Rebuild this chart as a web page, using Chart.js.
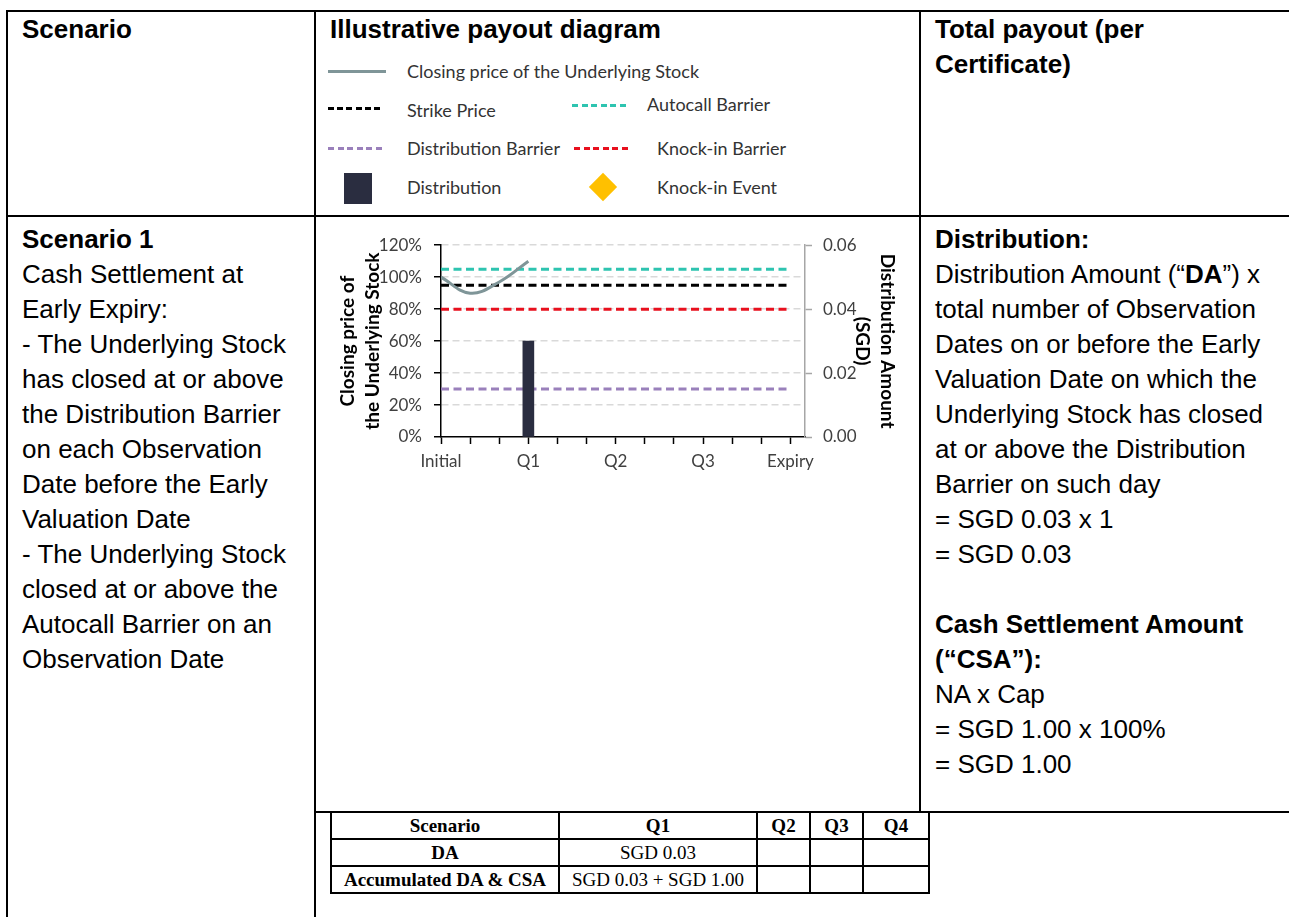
<!DOCTYPE html>
<html>
<head>
<meta charset="utf-8">
<script src="https://cdn.jsdelivr.net/npm/chart.js@4.4.1/dist/chart.umd.min.js"></script>
<style>
    body { margin: 0; background: #fff; width: 1289px; height: 917px; position: relative; overflow: hidden;
           font-family: "Liberation Sans", Arial, sans-serif; color: #000; }
    .ln { position: absolute; background: #000; }
    .txt { position: absolute; font-size: 26px; line-height: 35px; white-space: nowrap; }
    .sw { position: absolute; height: 3px; }
    .lg { position: absolute; font-family: Lato, sans-serif; font-size: 18px; line-height: 20px; color: #333; white-space: nowrap; }
    .mini { position: absolute; border-collapse: collapse; table-layout: fixed; width: 598px;
            font-family: "Liberation Serif", "Times New Roman", serif; font-size: 19px; }
    .mini td, .mini th { border: 2px solid #000; padding: 0; text-align: center; height: 25px; line-height: 20px; }
    .mini td { font-weight: normal; }
    #chartBox { position: absolute; left: 330px; top: 223px; width: 575px; height: 253px; }
</style>
</head>
<body>

<!-- outer table lines -->
<div class="ln" style="left:6px;top:10px;width:1283px;height:2px"></div>
<div class="ln" style="left:6px;top:215px;width:1283px;height:2px"></div>
<div class="ln" style="left:314px;top:811px;width:975px;height:2px"></div>
<div class="ln" style="left:6px;top:10px;width:2px;height:907px"></div>
<div class="ln" style="left:314px;top:10px;width:2px;height:907px"></div>
<div class="ln" style="left:919px;top:10px;width:2px;height:803px"></div>

<!-- header row -->
<div class="txt" style="left:22px;top:12px"><b>Scenario</b></div>
<div class="txt" style="left:330px;top:12px"><b>Illustrative payout diagram</b></div>
<div class="txt" style="left:935px;top:12px"><b>Total payout (per<br>Certificate)</b></div>

<!-- legend -->
<div class="sw" style="left:328px;top:70px;width:58px;background:#7f9598"></div>
<div class="lg" style="left:407px;top:61px">Closing price of the Underlying Stock</div>

<div class="sw" style="left:328px;top:107px;width:52px;background:repeating-linear-gradient(90deg,#000 0 6px,transparent 6px 9.2px)"></div>
<div class="lg" style="left:407px;top:100px">Strike Price</div>
<div class="sw" style="left:572px;top:104px;width:56px;background:repeating-linear-gradient(90deg,#2ec4b0 0 6px,transparent 6px 9.6px)"></div>
<div class="lg" style="left:647px;top:94px">Autocall Barrier</div>

<div class="sw" style="left:328px;top:147px;width:56px;background:repeating-linear-gradient(90deg,#9a80bb 0 6px,transparent 6px 9.6px)"></div>
<div class="lg" style="left:407px;top:138px">Distribution Barrier</div>
<div class="sw" style="left:574px;top:147px;width:56px;background:repeating-linear-gradient(90deg,#e8101e 0 6px,transparent 6px 9.6px)"></div>
<div class="lg" style="left:657px;top:138px">Knock-in Barrier</div>

<div style="position:absolute;left:344px;top:173px;width:28px;height:31px;background:#2a2d40"></div>
<div class="lg" style="left:407px;top:177px">Distribution</div>
<div style="position:absolute;left:593px;top:177px;width:20px;height:20px;background:#ffc000;transform:rotate(45deg)"></div>
<div class="lg" style="left:657px;top:177px">Knock-in Event</div>

<!-- scenario 1 row -->
<div class="txt" style="left:22px;top:222px">
<b>Scenario 1</b><br>
Cash Settlement at<br>
Early Expiry:<br>
- The Underlying Stock<br>
has closed at or above<br>
the Distribution Barrier<br>
on each Observation<br>
Date before the Early<br>
Valuation Date<br>
- The Underlying Stock<br>
closed at or above the<br>
Autocall Barrier on an<br>
Observation Date
</div>

<div class="txt" style="left:935px;top:222px">
<b>Distribution:</b><br>
Distribution Amount (“<b>DA</b>”) x<br>
total number of Observation<br>
Dates on or before the Early<br>
Valuation Date on which the<br>
Underlying Stock has closed<br>
at or above the Distribution<br>
Barrier on such day<br>
= SGD 0.03 x 1<br>
= SGD 0.03<br>
<br>
<b>Cash Settlement Amount</b><br>
<b>(“CSA”):</b><br>
NA x Cap<br>
= SGD 1.00 x 100%<br>
= SGD 1.00
</div>

<div id="chartBox"><canvas id="payoutChart"></canvas></div>

<table class="mini" style="left:330px;top:811px">
    <colgroup><col style="width:228px"><col style="width:198px"><col style="width:53px"><col style="width:53px"><col style="width:66px"></colgroup>
    <tr><th>Scenario</th><th>Q1</th><th>Q2</th><th>Q3</th><th>Q4</th></tr>
    <tr><th>DA</th><td>SGD 0.03</td><td></td><td></td><td></td></tr>
    <tr><th>Accumulated DA &amp; CSA</th><td>SGD 0.03 + SGD 1.00</td><td></td><td></td><td></td></tr>
</table>

<script>
// Observation points (monthly), labelled every quarter
const xLabels = ['Initial', '', '', 'Q1', '', '', 'Q2', '', '', 'Q3', '', '', 'Expiry'];

// Closing price of the Underlying Stock (% of initial), up to early expiry at Q1
const stockClose = [100, 90, 97, 110];

// Barrier levels (% of initial)
const autocallLevel = 105;
const strikeLevel = 95;
const knockInLevel = 80;
const distBarrierLevel = 30;

// Distribution amount paid (SGD) per observation point
const distribution = [null, null, null, 0.03, null, null, null, null, null, null, null, null, null];

// Axis ticks
const leftTicks = [0, 20, 40, 60, 80, 100, 120];
const rightTicks = [0, 0.02, 0.04, 0.06];

const lastX = xLabels.length - 1;
const flat = level => [{ x: 0, y: level }, { x: lastX, y: level }];
const tickFont = { family: 'Lato', size: 17 };
const titleFont = { family: 'Lato', size: 19, weight: 'bold', lineHeight: 1.32 };

function barrier(color, level) {
    return {
        type: 'line', data: flat(level), yAxisID: 'y', order: 1,
        borderColor: color, borderWidth: 3, borderDash: [8, 4.5], pointRadius: 0
    };
}

new Chart(document.getElementById('payoutChart').getContext('2d'), {
    data: {
        datasets: [
            {
                type: 'bar', yAxisID: 'y2', order: 0,
                data: distribution.map((v, i) => ({ x: i, y: v })).filter(p => p.y !== null),
                backgroundColor: '#2a2d40', barThickness: 11
            },
            {
                type: 'line', yAxisID: 'y', order: 1,
                data: stockClose.map((v, i) => ({ x: i, y: v })),
                borderColor: '#7f9598', borderWidth: 3, tension: 0.4, pointRadius: 0
            },
            barrier('#2ec4b0', autocallLevel),
            barrier('#000000', strikeLevel),
            barrier('#e8101e', knockInLevel),
            barrier('#9a80bb', distBarrierLevel)
        ]
    },
    options: {
        responsive: true,
        maintainAspectRatio: false,
        animation: false,
        layout: { padding: 0 },
        plugins: { legend: { display: false }, tooltip: { enabled: false } },
        scales: {
            x: {
                type: 'linear', min: 0, max: lastX + 0.5, offset: false,
                afterBuildTicks: s => { s.ticks = xLabels.map((l, i) => ({ value: i })); },
                afterFit: s => { s.height = 39; },
                grid: { offset: false, drawOnChartArea: false, tickLength: 7, tickColor: '#000', tickWidth: 1.5 },
                border: { color: '#000', width: 1.5 },
                ticks: { autoSkip: false, maxRotation: 0, padding: 7, color: '#404040', font: tickFont,
                         callback: v => xLabels[v] || '' }
            },
            y: {
                position: 'left', min: 0, max: 120,
                afterBuildTicks: s => { s.ticks = leftTicks.map(v => ({ value: v })); },
                afterFit: s => { s.width = 111; },
                grid: {
                    color: c => (c.tick && c.tick.value === 0) ? 'rgba(0,0,0,0)' : '#d9d9d9',
                    lineWidth: 1.5, tickLength: 7, tickColor: '#000', tickWidth: 1.5
                },
                border: { color: '#000', width: 1.5, dash: [7, 4] },
                ticks: { padding: 12, color: '#404040', font: tickFont, callback: v => v + '%' },
                title: { display: true, text: ['Closing price of', 'the Underlying Stock'],
                         color: '#000', font: titleFont, padding: { top: 5.5, bottom: 0 } }
            },
            y2: {
                position: 'right', min: 0, max: 0.06,
                afterBuildTicks: s => { s.ticks = rightTicks.map(v => ({ value: v })); },
                afterFit: s => { s.width = 100; },
                grid: { drawOnChartArea: false, tickLength: 7, tickColor: '#a6a6a6', tickWidth: 1.5 },
                border: { color: '#a6a6a6', width: 1.5 },
                ticks: { padding: 11, color: '#404040', font: tickFont, callback: v => v.toFixed(2) },
                title: { display: true, text: ['Distribution Amount', '(SGD)'],
                         color: '#000', font: titleFont, padding: { top: 5.5, bottom: 0 } }
            }
        }
    }
});
</script>
</body>
</html>
